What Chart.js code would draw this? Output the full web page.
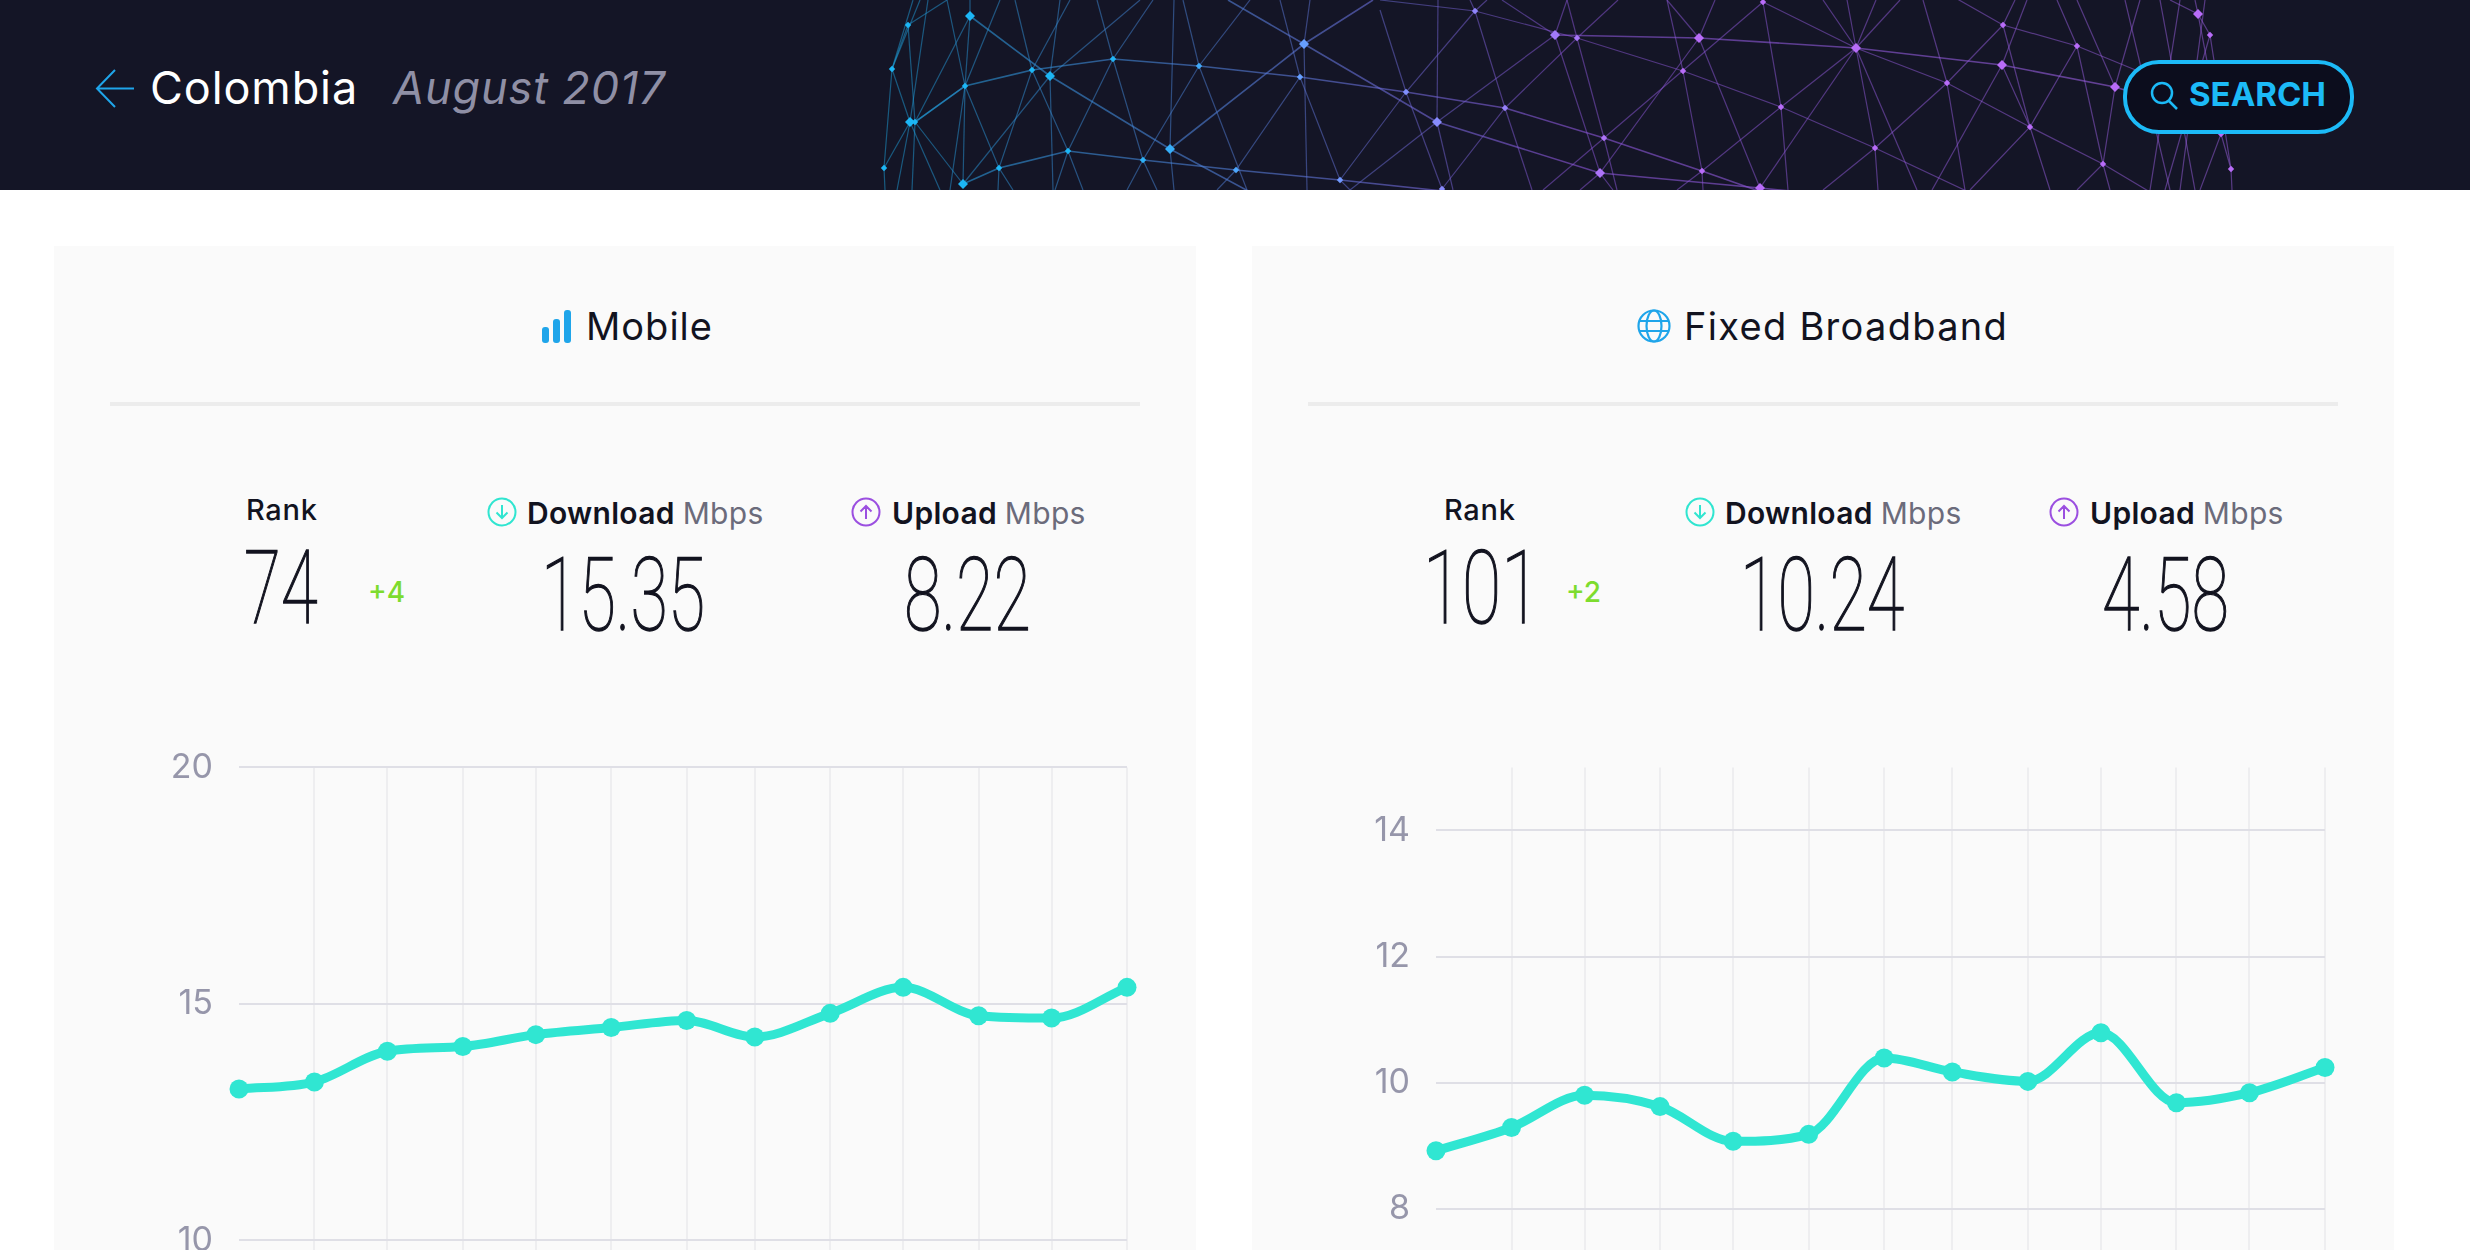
<!DOCTYPE html>
<html><head><meta charset="utf-8">
<script src="https://cdn.jsdelivr.net/npm/chart.js@4"></script>
<style>
html,body{margin:0;padding:0;width:2470px;height:1250px;overflow:hidden;background:#fff;font-family:Inter,"Noto Sans",sans-serif;color:#12131f}
.abs{position:absolute;white-space:nowrap;line-height:1}
#hdr{position:absolute;left:0;top:0;width:2470px;height:190px;background:#141526;overflow:hidden}
.panel{position:absolute;top:246px;width:1142px;height:1010px;background:#fafafa}
.rule{position:absolute;top:402px;width:1030px;height:4px;background:#ececec}
.big{font-family:Roboto;font-weight:100;font-size:102px;transform-origin:left center;color:#12131f;-webkit-text-stroke:1.3px #12131f}
canvas{position:absolute}
</style></head><body>
<div id="hdr"><svg id="mesh" width="2470" height="190" style="position:absolute;left:0;top:0"></svg></div>
<svg class="abs" style="left:94px;top:68px" width="42" height="42" viewBox="0 0 42 42" fill="none" stroke="#1fa5ea" stroke-width="2"><path d="M40 20.500H3M21 2L3 20.500 21 39"/></svg>
<div class="abs" style="left:150px;top:65px;font-size:45px;font-weight:400;letter-spacing:.9px;color:#fff">Colombia</div>
<div class="abs" style="left:393px;top:65px;font-size:45px;font-weight:400;font-style:italic;letter-spacing:.9px;color:#8f8fa5">August 2017</div>
<div class="abs" style="left:2123px;top:60px;width:223px;height:66px;border:4px solid #1cbaf7;border-radius:36px;background:#0c0d1d"></div>
<svg class="abs" style="left:2149px;top:80px" width="32" height="32" viewBox="0 0 32 32" fill="none" stroke="#1cbaf7" stroke-width="2.500"><circle cx="13" cy="13" r="10"/><path d="M20 21l8 8"/></svg>
<div class="abs" style="left:2189px;top:78px;font-size:33px;font-weight:700;color:#1cbaf7">SEARCH</div>

<div class="panel" style="left:54px"></div><div class="panel" style="left:1252px"></div>
<div class="rule" style="left:110px"></div><div class="rule" style="left:1308px"></div>

<svg class="abs" style="left:542px;top:310px" width="30" height="33" fill="#1fa5ea"><rect x="0" y="17" width="7" height="16" rx="3"/><rect x="11" y="9" width="7" height="24" rx="3"/><rect x="22" y="0" width="7" height="33" rx="3"/></svg>
<div class="abs" style="left:586px;top:307px;font-size:38px;font-weight:400;letter-spacing:1px">Mobile</div>
<svg class="abs" style="left:1637px;top:309px" width="34" height="34" viewBox="0 0 34 34" fill="none" stroke="#1fa5ea" stroke-width="2.200"><circle cx="17" cy="17" r="15.500"/><ellipse cx="17" cy="17" rx="7.500" ry="15.500"/><path d="M2 12h30M2 22h30"/></svg>
<div class="abs" style="left:1684px;top:307px;font-size:38px;font-weight:400;letter-spacing:1.300px">Fixed Broadband</div>

<div id="stats"></div>
<canvas id="c1" width="1127" height="600" style="left:20px;top:720px;width:1127px;height:600px"></canvas>
<canvas id="c2" width="1128" height="600" style="left:1217px;top:720px;width:1128px;height:600px"></canvas>

<script>
// ---- data ----
const months = ["Aug 2016","Sep 2016","Oct 2016","Nov 2016","Dec 2016","Jan 2017","Feb 2017","Mar 2017","Apr 2017","May 2017","Jun 2017","Jul 2017","Aug 2017"];
const dayOffsets = [0,31,61,92,122,153,184,212,243,273,304,334,365];
const mobileDownload = [13.2,13.35,14.0,14.1,14.35,14.5,14.65,14.3,14.8,15.35,14.75,14.7,15.35];
const fixedDownload = [8.92,9.29,9.8,9.62,9.07,9.18,10.39,10.17,10.02,10.79,9.68,9.84,10.24];
const mobileTicks = [10,15,20];
const fixedTicks = [8,10,12,14];

// ---- header mesh decoration ----
const bigNodes=[[970,16],[910,122],[1050,76],[1304,44],[963,184],[1170,149],[1437,122],[1555,35],[1699,38],[1856,48],[1600,173],[1760,188],[2002,65],[2115,87],[2198,14]];
const smallNodes=[[908,25],[892,69],[915,122],[965,86],[1032,70],[1113,59],[1199,66],[1300,77],[884,168],[999,168],[1068,151],[1143,160],[1236,170],[1340,180],[1475,11],[1406,92],[1505,108],[1577,38],[1683,71],[1763,2],[1781,107],[1604,138],[1702,171],[1875,148],[1442,189],[2003,25],[2077,46],[1947,83],[2030,127],[2103,164],[2210,35],[2231,169],[2221,134]];
const strongLines=[
 [[915,122],[965,86],[1032,70],[1113,59],[1199,66],[1300,77],[1406,92],[1505,108],[1604,138],[1702,171],[1770,195]],
 [[963,184],[999,168],[1068,151],[1143,160],[1236,170],[1340,180],[1480,195]],
 [[1555,35],[1699,38],[1856,48],[2002,65],[2115,87],[2190,110]],
 [[1437,122],[1600,173],[1760,188],[1800,192]],
 [[970,16],[1050,76],[1170,149],[1250,192]],
 [[1170,149],[1304,44],[1373,0]],
 [[1228,0],[1304,44],[1437,122]]
];
const thinLines=[
 [[1380,0],[1475,11],[1577,38],[1683,71],[1781,107],[1875,148],[1975,195]],
 [[1763,2],[1856,48],[1947,83],[2030,127],[2103,164],[2150,192]],
 [[1945,-8],[2003,25],[2077,46],[2160,80]],
 [[1050,76],[1140,0]],[[1113,59],[1153,0]],[[1113,59],[1097,0]],[[1113,59],[1068,151],[1055,190]],[[1113,59],[1143,160],[1157,190]],
 [[1199,66],[1183,0]],[[1199,66],[1250,0]],[[1199,66],[1143,160],[1127,190]],[[1199,66],[1247,190]],
 [[1174,0],[1170,149],[1174,190]],[[1300,77],[1280,0]],[[1300,77],[1236,170],[1217,190]],[[1300,77],[1340,180],[1350,190]],
 [[1304,44],[1310,0]],[[1304,44],[1307,190]],
 [[1340,180],[1406,92],[1475,11],[1487,0]],[[1350,190],[1437,122]],[[1437,122],[1555,35]],[[1555,35],[1567,0]],[[1555,35],[1502,0]],
 [[1555,35],[1600,173],[1613,190]],[[1577,38],[1604,138],[1617,190]],[[1577,38],[1567,0]],[[1442,189],[1505,108],[1577,38],[1618,0]],
 [[1505,108],[1475,11],[1470,0]],[[1505,108],[1532,190]],[[1437,122],[1453,190]],[[1406,92],[1442,189]],[[1380,10],[1406,92]],[[1438,0],[1437,122]],
 [[1699,38],[1600,173],[1580,190]],[[1699,38],[1667,0]],[[1699,38],[1715,0]],[[1699,38],[1760,188]],[[1667,0],[1683,71],[1702,171],[1703,190]],
 [[1763,2],[1604,138],[1543,190]],[[1763,2],[1781,107],[1788,190]],[[1781,107],[1856,48]],[[1781,107],[1702,171],[1677,190]],
 [[1856,48],[1760,188]],[[1856,48],[1875,148],[1878,190]],[[1856,48],[1900,0]],[[1856,48],[1876,0]],[[1856,48],[1847,0]],[[1856,48],[1823,0]],[[1856,48],[1917,190]],
 [[1875,148],[1947,83],[2003,25]],[[1947,83],[1965,190]],[[1947,83],[1923,0]],[[1823,190],[1875,148]],
 [[2002,65],[2027,0]],[[2002,65],[1932,190]],[[2002,65],[2030,127],[2050,190]],[[2003,25],[2030,127]],[[2003,25],[2015,0]],
 [[2057,0],[2077,46],[2103,164],[2110,190]],[[2077,46],[2030,127],[1970,190]],[[2115,87],[2140,0]],[[2077,0],[2115,87]],[[2115,87],[2103,164],[2077,190]],
 [[2170,0],[2198,14],[2210,35],[2231,169],[2232,190]],[[2195,0],[2198,14],[2221,134],[2231,169]],[[2160,0],[2195,190]],[[2180,0],[2150,190]],[[2210,35],[2165,190]],[[2205,0],[2180,190]],[[2221,134],[2200,190]],[[2125,0],[2170,190]],
 [[908,25],[947,0]],[[892,69],[913,0]],[[892,69],[920,0]],[[908,25],[915,122]],[[908,25],[892,69]],[[892,69],[884,168],[885,190]],[[892,69],[910,122]],
 [[965,86],[947,0]],[[965,86],[970,16]],[[965,86],[1000,0]],[[965,86],[915,122]],[[965,86],[950,190]],[[965,86],[963,184]],[[965,86],[999,168],[1013,190]],
 [[970,16],[915,122]],[[970,16],[970,0]],[[915,122],[963,184]],[[915,122],[912,190]],[[910,122],[884,168]],[[910,122],[940,190]],[[910,122],[897,190]],[[910,122],[928,0]],
 [[1015,0],[1032,70]],[[1050,76],[1060,0]],[[1032,70],[1070,0]],[[1032,70],[999,168],[998,190]],[[1032,70],[1068,151],[1083,190]],[[1050,76],[963,184]],[[1050,76],[1053,190]]
];
const ns='http://www.w3.org/2000/svg',svg=document.getElementById('mesh');
const defs=document.createElementNS(ns,'defs');
defs.innerHTML='<linearGradient id="g" gradientUnits="userSpaceOnUse" x1="880" y1="0" x2="2240" y2="0"><stop offset="0" stop-color="#1a9fd8"/><stop offset=".3" stop-color="#5b78d8"/><stop offset=".5" stop-color="#8a55d8"/><stop offset="1" stop-color="#9a5fe0"/></linearGradient><linearGradient id="n" gradientUnits="userSpaceOnUse" x1="1100" y1="0" x2="1650" y2="0"><stop offset="0" stop-color="#1cb6f5"/><stop offset=".4" stop-color="#6c9cff"/><stop offset="1" stop-color="#b86cf8"/></linearGradient>';
svg.appendChild(defs);
function line(pts,o,w){const l=document.createElementNS(ns,'polyline');l.setAttribute('points',pts.map(p=>p.join(',')).join(' '));l.setAttribute('fill','none');l.setAttribute('stroke','url(#g)');l.setAttribute('stroke-opacity',o);l.setAttribute('stroke-width',w);svg.appendChild(l);}
thinLines.forEach(p=>line(p,.5,1.2));
strongLines.forEach(p=>line(p,.6,1.6));
function node([x,y],s){const r=document.createElementNS(ns,'path');r.setAttribute('d',`M${x} ${y-s}L${x+s} ${y}L${x} ${y+s}L${x-s} ${y}Z`);r.setAttribute('fill','url(#n)');svg.appendChild(r);}
smallNodes.forEach(p=>node(p,3.2));
bigNodes.forEach(p=>node(p,5));

// ---- stats text ----
const stats=document.getElementById('stats');
function add(html){stats.insertAdjacentHTML('beforeend',html);}
function panelStats(dx,rank,rankX,rankScale,delta,deltaX,dl,dlX,ul,ulX){
 add(`<div class="abs" style="left:${246+dx}px;top:495px;font-size:29px;font-weight:500;letter-spacing:.7px">Rank</div>`);
 add(`<div class="abs big" style="left:${rankX}px;top:537px;transform:scaleX(${rankScale})">${rank}</div>`);
 add(`<div class="abs" style="left:${deltaX}px;top:578px;font-size:28px;font-weight:500;color:#7ddc2e">${delta}</div>`);
 add(`<svg class="abs" style="left:${487+dx}px;top:497px" width="30" height="30" viewBox="0 0 30 30" fill="none" stroke="#30e5d0" stroke-width="2"><circle cx="15" cy="15" r="13.500"/><path d="M15 8v13M9.500 15.500L15 21l5.500-5.500"/></svg>`);
 add(`<div class="abs" style="left:${527+dx}px;top:498px;font-size:30px;font-weight:600;letter-spacing:.3px">Download <span style="font-weight:400;color:#6b6b7b;margin-left:0">Mbps</span></div>`);
 add(`<div class="abs big" style="left:${dlX}px;top:544px;transform:scaleX(.67)">${dl}</div>`);
 add(`<svg class="abs" style="left:${851+dx}px;top:497px" width="30" height="30" viewBox="0 0 30 30" fill="none" stroke="#9b4fe0" stroke-width="2"><circle cx="15" cy="15" r="13.500"/><path d="M15 22V9M9.500 14.500L15 9l5.500 5.500"/></svg>`);
 add(`<div class="abs" style="left:${892+dx}px;top:498px;font-size:30px;font-weight:600;letter-spacing:.3px">Upload <span style="font-weight:400;color:#6b6b7b;margin-left:0">Mbps</span></div>`);
 add(`<div class="abs big" style="left:${ulX}px;top:544px;transform:scaleX(.67)">${ul}</div>`);
}
panelStats(0,"74",244,.66,"+4",368,"15.35",541,"8.22",904);
panelStats(1198,"101",1423,.7,"+2",1566,"10.24",1740,"4.58",2102);

// ---- charts ----
function makeChart(id,values,tickVals,yMax,pxPerUnit,plotTop){
 const cv=document.getElementById(id);
 const chart=new Chart(cv,{
  type:'line',
  data:{datasets:[{label:'Download',data:dayOffsets.map((d,i)=>({x:d,y:values[i]})),borderColor:'#30e6d2',backgroundColor:'#30e6d2',borderWidth:9,pointRadius:9.5,pointHoverRadius:9.5,pointBorderWidth:0,cubicInterpolationMode:'monotone',clip:false,fill:false}]},
  options:{
   responsive:false,animation:false,devicePixelRatio:1,
   layout:{autoPadding:false,padding:{top:0,right:20,bottom:0,left:0}},
   plugins:{legend:{display:false},tooltip:{enabled:false}},
   scales:{
    x:{type:'linear',min:dayOffsets[0],max:dayOffsets[dayOffsets.length-1],
       afterBuildTicks(s){s.ticks=dayOffsets.map(v=>({value:v}));},
       ticks:{display:false},border:{display:false},
       grid:{drawTicks:false,lineWidth:2,color:c=>c.index===0?'rgba(0,0,0,0)':'#eeeef0'}},
    y:{type:'linear',min:yMax-10,max:yMax,
       afterBuildTicks(s){s.ticks=tickVals.map(v=>({value:v}));},
       afterFit(s){s.width=219;},
       border:{display:false},
       grid:{drawTicks:false,lineWidth:2,color:'#dfdfe6'},
       ticks:{color:'#9696aa',padding:26,font:{family:'Inter',size:34,weight:'400'},callback:v=>String(v)}}
   }
  }
 });
 const s=chart.scales.y;
 cv.style.top=(plotTop-s.top)+'px';
 chart.options.scales.y.min=yMax-s.height/pxPerUnit;
 chart.update();
 return chart;
}
makeChart('c1',mobileDownload,mobileTicks,20,47.3,767.7);
makeChart('c2',fixedDownload,fixedTicks,15,63.05,767.7);
</script>
</body></html>
